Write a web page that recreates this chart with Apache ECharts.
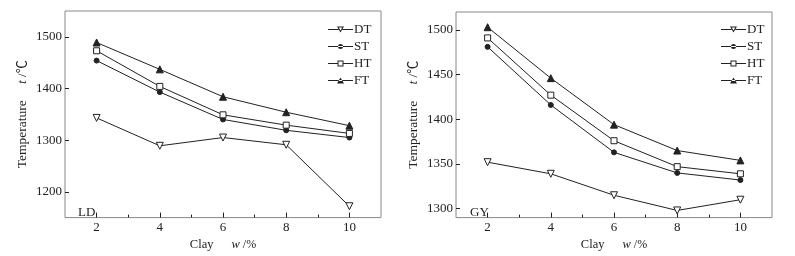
<!DOCTYPE html>
<html>
<head>
<meta charset="utf-8">
<title>Clay - Temperature</title>
<script src="https://cdn.jsdelivr.net/npm/echarts@6.0.0/dist/echarts.min.js"></script>
</head>
<body style="margin:0;background:#fff">
<div id="main" style="width:795px;height:256px;"></div>
<script type="text/javascript">
var clay = [2, 4, 6, 8, 10];
var names = ['DT', 'ST', 'HT', 'FT'];
// LD
var ldDT = [1343, 1289, 1305, 1291, 1172];
var ldST = [1454, 1393, 1340, 1319, 1305];
var ldHT = [1473, 1404, 1349, 1329, 1313];
var ldFT = [1489, 1437, 1384, 1354, 1328];
// GY
var gyDT = [1352, 1339, 1315, 1298, 1310];
var gyST = [1481, 1416, 1363, 1340, 1332];
var gyHT = [1491, 1427, 1376, 1347, 1339];
var gyFT = [1503, 1446, 1394, 1365, 1354];
// ticks
var xTicks = [2, 4, 6, 8, 10];
var xMinor = [3, 5, 7, 9];
var ldTicks = [1200, 1300, 1400, 1500];
var gyTicks = [1300, 1350, 1400, 1450, 1500];

var font = '"Liberation Serif", "Times New Roman", "Noto Sans CJK SC", serif';
var ink = '#222';
var invTri = 'path://M0,0L10,0L5,9Z';
var symbols = {
    DT: {symbol: invTri, size: 7, fill: '#fff'},
    ST: {symbol: 'circle', size: 5, fill: ink},
    HT: {symbol: 'rect', size: 6, fill: '#fff'},
    FT: {symbol: 'triangle', size: 7, fill: ink}
};
// legend keys: short line + small marker (hollow ones drawn as rings)
var legendIcons = {
    DT: 'path://M0,3L10.6,3L10.6,4L0,4Z M14.4,3L25,3L25,4L14.4,4Z M9,0.5L16,0.5L12.5,6.5Z M10.7,1.5L12.5,4.6L14.3,1.5Z',
    ST: 'path://M0,3L25,3L25,4L0,4Z M10,3.5A2.5,2.5 0 1,0 15,3.5A2.5,2.5 0 1,0 10,3.5Z',
    HT: 'path://M0,3L9.5,3L9.5,4L0,4Z M15.5,3L25,3L25,4L15.5,4Z M9.5,0.5L15.5,0.5L15.5,6.5L9.5,6.5Z M10.5,1.5L10.5,5.5L14.5,5.5L14.5,1.5Z',
    FT: 'path://M0,3L25,3L25,4L0,4Z M9,6.5L16,6.5L12.5,0.5Z'
};

function pairs(ys){
    var out = [];
    for (var i = 0; i < clay.length; i++) out.push([clay[i], ys[i]]);
    return out;
}

function mkSeries(name, ys, axis){
    var s = symbols[name];
    return {
        name: name,
        type: 'line',
        xAxisIndex: axis * 2,
        yAxisIndex: axis,
        data: pairs(ys),
        symbol: s.symbol,
        symbolSize: s.size,
        showAllSymbol: true,
        animation: false,
        lineStyle: {color: ink, width: 1},
        itemStyle: {color: s.fill, borderColor: ink, borderWidth: 1}
    };
}

function plain(v){ return String(v); }

function xMajor(grid){
    return {
        type: 'value', gridIndex: grid, min: 1, max: 11,
        name: '{a|Clay}      {i|w} /%', nameLocation: 'middle', nameGap: 17,
        nameTextStyle: {color: ink, fontFamily: font, fontSize: 12,
            rich: {a: {fontFamily: font, fontSize: 12.5, color: ink},
                   i: {fontFamily: font, fontSize: 12.5, fontStyle: 'italic', color: ink}}},
        axisLine: {show: false},
        splitLine: {show: false},
        axisTick: {inside: true, length: 5, lineStyle: {color: ink}, customValues: xTicks},
        axisLabel: {margin: 3, color: ink, fontFamily: font, fontSize: 13, customValues: xTicks, formatter: plain}
    };
}
function xMin(grid){
    return {
        type: 'value', gridIndex: grid, min: 1, max: 11, position: 'bottom', offset: 0,
        axisLine: {show: false},
        splitLine: {show: false},
        axisTick: {inside: true, length: 3, lineStyle: {color: ink}, customValues: xMinor},
        axisLabel: {show: false}
    };
}
function yAxis(grid, min, max, ticks){
    return {
        type: 'value', gridIndex: grid, min: min, max: max,
        name: '{a|Temperature}     {i|t} /℃', nameLocation: 'middle', nameGap: 36,
        nameTextStyle: {color: ink, fontFamily: font, fontSize: 13,
            rich: {a: {fontFamily: font, fontSize: 13.5, color: ink},
                   i: {fontFamily: font, fontSize: 13.5, fontStyle: 'italic', color: ink}}},
        axisLine: {show: false},
        splitLine: {show: false},
        axisTick: {inside: true, length: 4, lineStyle: {color: ink}, customValues: ticks},
        axisLabel: {margin: 3, color: ink, fontFamily: font, fontSize: 13, customValues: ticks, formatter: plain}
    };
}
function legend(left){
    return {
        orient: 'vertical', left: left, top: 18,
        data: names.map(function(n){ return {name: n, icon: legendIcons[n]}; }),
        itemWidth: 25, itemHeight: 7, itemGap: 4,
        itemStyle: {color: ink, borderWidth: 0},
        textStyle: {color: ink, fontFamily: font, fontSize: 13, lineHeight: 12, padding: [0, 0, 0, -4]}
    };
}

var myChart = echarts.init(document.getElementById('main'));
var option = {
    backgroundColor: '#fff',
    animation: false,
    title: [
        {text: 'LD', left: 73, top: 201, textStyle: {fontFamily: font, fontSize: 13, fontWeight: 'normal', color: ink}},
        {text: 'GY', left: 465, top: 201, textStyle: {fontFamily: font, fontSize: 13, fontWeight: 'normal', color: ink}}
    ],
    legend: [legend(323), legend(716)],
    grid: [
        {left: 65, top: 11, width: 316, height: 208, show: true, borderColor: '#888', borderWidth: 1, containLabel: false},
        {left: 456, top: 12, width: 316, height: 207, show: true, borderColor: '#888', borderWidth: 1, containLabel: false}
    ],
    xAxis: [xMajor(0), xMin(0), xMajor(1), xMin(1)],
    yAxis: [yAxis(0, 1150, 1550, ldTicks), yAxis(1, 1290, 1520, gyTicks)],
    series: [
        mkSeries('DT', ldDT, 0), mkSeries('ST', ldST, 0), mkSeries('HT', ldHT, 0), mkSeries('FT', ldFT, 0),
        mkSeries('DT', gyDT, 1), mkSeries('ST', gyST, 1), mkSeries('HT', gyHT, 1), mkSeries('FT', gyFT, 1)
    ]
};
myChart.setOption(option);
</script>
</body>
</html>
